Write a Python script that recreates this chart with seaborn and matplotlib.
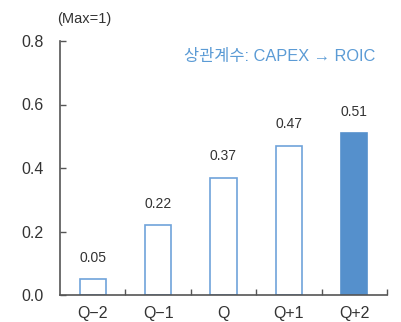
import matplotlib
matplotlib.use("Agg")
import matplotlib.pyplot as plt
import seaborn as sns
import pandas as pd

categories = ["Q\u22122", "Q\u22121", "Q", "Q+1", "Q+2"]
values = [0.05, 0.22, 0.37, 0.47, 0.51]
value_labels = ["0.05", "0.22", "0.37", "0.47", "0.51"]
y_ticks = [0.0, 0.2, 0.4, 0.6, 0.8]

sns.set_style("white")
plt.rcParams["font.family"] = ["Liberation Sans", "Noto Sans CJK KR", "DejaVu Sans"]

BLUE = "#5590CC"
EDGE = "#6FA3DA"
TEXT = "#333333"

df = pd.DataFrame({"period": categories, "corr": values})

fig = plt.figure(figsize=(4.01, 3.22), dpi=100)
ax = fig.add_axes([60 / 401, 1 - 295 / 322, 327 / 401, 254 / 322])

sns.barplot(data=df, x="period", y="corr", ax=ax, width=0.4, color=BLUE,
            saturation=1, linewidth=1.2, edgecolor=EDGE)

for i, patch in enumerate(ax.patches):
    if i < len(values) - 1:
        patch.set_facecolor("white")
        patch.set_edgecolor(EDGE)
    else:
        patch.set_facecolor(BLUE)
        patch.set_edgecolor(BLUE)

for i, (v, lab) in enumerate(zip(values, value_labels)):
    ax.text(i, v + 0.045, lab, ha="center", va="bottom", fontsize=10, color=TEXT)

ax.set_xlim(-0.5, len(categories) - 0.5)
ax.set_ylim(0, 0.8)
ax.set_yticks(y_ticks)
ax.set_yticklabels([f"{t:.1f}" for t in y_ticks])
ax.set_xlabel("")
ax.set_ylabel("")

# category boundary ticks on the x axis
ax.set_xticks([i + 0.5 for i in range(len(categories))], minor=True)
ax.tick_params(axis="x", which="major", length=0, labelsize=11.5, colors=TEXT, pad=8)
ax.tick_params(axis="x", which="minor", direction="in", length=4, width=1, color="#555555", bottom=True)
ax.tick_params(axis="y", direction="in", length=4, width=1, color="#555555", labelsize=11.5,
               labelcolor=TEXT, pad=12, left=True)

for side in ["top", "right"]:
    ax.spines[side].set_visible(False)
for side in ["left", "bottom"]:
    ax.spines[side].set_color("#555555")
    ax.spines[side].set_linewidth(1.2)

fig.text(57 / 401, 1 - 19 / 322, "(Max=1)", ha="left", va="center", fontsize=10.5, color=TEXT)
ax.text(0.965, 0.94, "상관계수: CAPEX \u2192 ROIC", transform=ax.transAxes, ha="right",
        va="center", fontsize=11.8, color="#5B9BD5")

fig.savefig("out.png", dpi=100)
